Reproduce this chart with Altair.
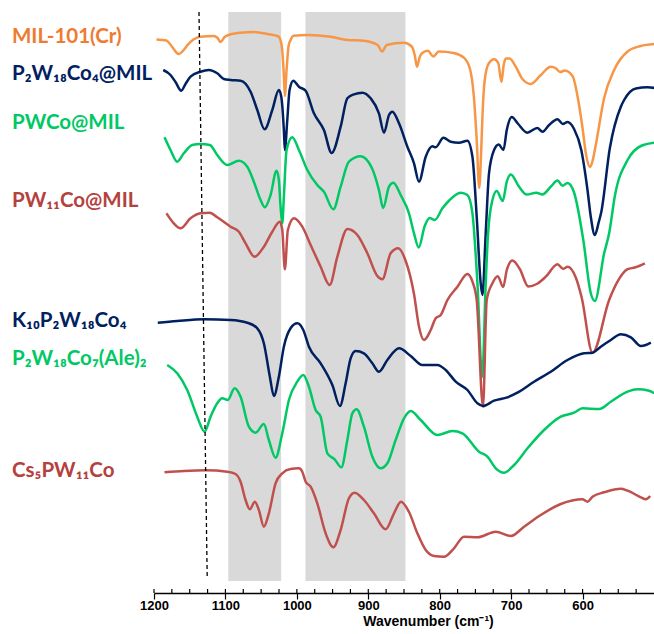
import altair as alt
import pandas as pd

# ---------------- data (wavenumber, offset transmittance a.u.) ----------------
mil_wn = [1196.5, 1182.5, 1175.5, 1165.7, 1157.3, 1153, 1144.7, 1134.9, 1116.6, 1111, 1106.8, 1101.2,
          1095.6, 1078.8, 1060.6, 1041, 1025.6, 1021.4, 1018.6, 1016.8, 1014.4, 1011.6, 1008.8, 1004.6,
          985, 952.7, 928.9, 906.5, 886.9, 880.6, 874.3, 850.5, 839.2, 835, 831.8, 828, 824.5, 816.8,
          808.8, 801.4, 780.4, 766.4, 758, 752.4, 748.2, 744.7, 741.9, 739.8, 737, 731.4, 723.9, 718.1,
          713.6, 710.4, 707.5, 702, 693.6, 684.2, 672.5, 658.5, 644.5, 637.5, 631.5, 624.9, 614.1, 604.9,
          599.7, 595.5, 589.4, 585.7, 581.5, 569.8, 555.8, 537, 518.4, 499.5]
mil_t = [553.5, 552.5, 547, 539, 544, 548, 553.5, 556.3, 557, 555, 551, 556,
         558, 560.3, 561, 559, 556.5, 548, 523, 497, 523, 547, 553, 557.3,
         558, 556.3, 553, 552.3, 548, 541.5, 548, 550.3, 546.5, 538, 526.3, 536, 540, 542.3,
         536.5, 541.5, 540, 535.5, 525, 498, 453, 405, 443, 483, 513, 529.5, 533.7, 530,
         511.3, 528, 534.5, 534.5, 526.3, 514, 509, 518, 526.3, 524.7, 521, 522.5, 517, 488,
         463, 440, 426, 433, 448, 495, 523, 541.5, 547, 549]

p2co4mil_wn = [1187.1, 1176.9, 1169.9, 1161.9, 1155.9, 1148.9, 1134.9, 1123.2, 1111.5, 1102.2, 1092.8,
               1078.8, 1064.8, 1055.4, 1045.2, 1034.4, 1025.2, 1021.8, 1018.2, 1016.8, 1013.4, 1010.2,
               1005, 997.1, 987.7, 976.1, 962.1, 951.3, 938.7, 929.3, 920.1, 908.3, 896.7, 885.1, 878,
               871, 866.3, 857, 845.3, 836, 829, 819.6, 810.2, 805.6, 794.8, 784.6, 773, 761.2, 754.2,
               748.2, 742.6, 740.2, 735.6, 731, 723.9, 717.4, 710.8, 706.1, 699.1, 690.7, 677.4, 663.4,
               656.1, 646.9, 635.1, 627.7, 621.1, 611.9, 601.8, 593.1, 588.5, 582.9, 577.3, 573.8, 561.8,
               546.4, 541.8, 525.4, 509, 498.8]
p2co4mil_t = [523, 518, 511, 502.3, 509, 516.3, 521.3, 523, 519.7, 514, 513,
              512.3, 501.3, 483, 463.7, 483, 503, 496.3, 463, 443, 473, 503,
              512.3, 506.3, 502.3, 479.7, 463, 440, 466.3, 494.7, 498.7, 500.3, 494.7, 479.7, 460.3,
              478, 481.3, 469.7, 446.3, 429.7, 411.3, 436.3, 446.7, 445.7, 455.3, 451.3, 450.3, 452.3, 436.3,
              376.3, 309.7, 298, 359.7, 419.7, 443, 448.5, 443, 463, 476, 469.5, 460.3, 465,
              461.3, 468, 473.8, 469, 471, 464, 443, 403, 376.3, 358, 371, 381, 445,
              486.3, 493, 504.5, 505.7, 505]

pwcomil_wn = [1185.3, 1176.9, 1167.5, 1158.3, 1146.5, 1134.9, 1121.8, 1111.5, 1097.4, 1081.2, 1069.4,
              1060.2, 1050.8, 1044.8, 1036.8, 1028.4, 1025.2, 1022.8, 1020.4, 1018.2, 1014.4, 1006.4,
              997.1, 985.4, 971.4, 962.1, 948.9, 938.7, 927.1, 910.7, 895.3, 885.1, 879.2, 871, 864.9,
              854.7, 843, 836, 829.4, 821, 814, 807, 796.2, 787.4, 770.6, 761.2, 754.2, 747.2, 740.5,
              735.6, 732.3, 726.2, 720.2, 711.8, 706.1, 700.5, 688.9, 678.1, 664.8, 656.1, 644.5, 635.1,
              628.1, 621.1, 611.9, 599, 588.5, 582.9, 569.8, 562.8, 554.8, 537, 518.4, 498.8]
pwcomil_t = [455.7, 443, 431.3, 439.7, 448, 449, 448, 438, 428, 432.3, 426.3,
             411.3, 393, 385.7, 398, 422.3, 413, 386.3, 369.7, 396.3, 443, 455.7,
             443, 423, 408, 401.3, 383.7, 406.3, 431.3, 436.7, 425.5, 403, 385, 406.3, 410.3,
             398, 379.7, 359.7, 345.5, 367, 375, 373, 384.7, 392, 400.3, 398, 379.7, 309.7, 216,
             309.7, 359.7, 393, 402, 392, 411.3, 418.5, 406.3, 398.5, 400.3, 398.5, 406.3, 412.5,
             407.2, 410, 400.5, 353, 299.7, 292, 339.7, 359.7, 397, 433, 447, 450.3]

pw11mil_wn = [1182.5, 1172.3, 1162.9, 1148.9, 1134.9, 1121.8, 1111.5, 1092.8, 1081.2, 1071.8, 1059.2,
              1046.2, 1034.4, 1023.8, 1020.4, 1016.8, 1012.6, 1004.1, 992.4, 980.7, 966.7, 954.1, 943.3,
              929.3, 915.3, 901.3, 887.3, 880.3, 868.7, 858.2, 847.6, 836, 829, 822, 812.6, 805.6, 798.6,
              789.2, 775.2, 761.2, 754.2, 748.2, 739.4, 734.2, 726.2, 718.8, 711.1, 706.1, 698.2, 687.9,
              676, 664.1, 651.5, 635.1, 627.4, 620.7, 609.5, 601.1, 586.1, 562.8, 551.1, 537, 526.8, 512.8]
pw11mil_t = [379.7, 369.7, 364.7, 374.7, 379.7, 380.3, 375.7, 366.3, 361.3, 349.7, 336.3,
             346.3, 361.3, 371.3, 363, 323.7, 363, 374.7, 366.3, 348, 326.3, 308, 336.3,
             364, 358, 339.7, 317, 313.7, 339.7, 344.7, 332, 299, 266.3, 253, 263, 274.7, 278,
             293, 306.3, 319, 311.3, 293, 186.3, 293, 309.7, 316.7, 306, 323, 332.5, 324,
             306.5, 309, 316.3, 328.8, 324.2, 326.3, 315.5, 295, 240.3, 293, 311.3, 323.8, 325.5, 329.7]

k10_wn = [1194.7, 1167.5, 1130.2, 1092.8, 1069.4, 1055.4, 1046.2, 1037.8, 1032.2, 1025.2, 1018.2, 1008.8,
          999.4, 991, 983.1, 966.7, 950.3, 939.7, 931.7, 924.7, 917.7, 906.1, 894.3, 885.1, 873.3, 857,
          840.6, 824.3, 803.2, 791.6, 777.6, 761.2, 747.2, 739.4, 723.9, 705.2, 691.2, 667.9, 644.5, 621.1,
          597.9, 586.1, 574.5, 560.4, 546.4, 532.4, 518.4, 511.4, 504.4]
k10_t = [270.3, 272, 273.7, 273, 270.3, 264.7, 249.7, 216.3, 197, 216.3, 246.3, 264.7,
         269.7, 263, 246.3, 229.7, 208, 187, 209.7, 234.7, 242, 239.7, 229.7, 221.3, 233, 244.7,
         237, 228, 228, 223, 211.3, 203, 189.7, 187, 192.3, 195.7, 200.3, 211.3, 221.3, 233,
         239.7, 240.3, 246.3, 253, 258.7, 255.7, 247, 248, 250.3]

ale_wn = [1181.5, 1167.5, 1153.5, 1139.5, 1129.2, 1120.8, 1111.5, 1104.5, 1096.6, 1087.2, 1078.8, 1067.2,
          1057.8, 1046.2, 1039.2, 1029.8, 1020.4, 1011.1, 999.4, 991, 983.1, 973.7, 966.7, 957.3, 947.1,
          937.7, 929.3, 922.3, 916.3, 906.1, 894.3, 882.7, 873.3, 861.7, 850, 840.6, 826.6, 803.2, 782.2,
          768.2, 745, 733.2, 721.6, 709.9, 695.9, 677.1, 653.9, 630.5, 611.9, 600.1, 576.8, 560.4, 537,
          523, 506.8, 499.8]
ale_t = [228, 219.7, 203, 176.3, 161.3, 176.3, 189.7, 194.7, 193, 204.7, 196.3, 166.3,
         160.3, 169, 153, 135.3, 159.7, 193, 211.3, 218, 206.3, 183, 176.3, 139.7, 133.7,
         125.7, 153, 179.7, 183.7, 166.3, 136.3, 124.7, 129.7, 153, 174.7, 182, 173, 158, 162,
         159.7, 141.3, 136.3, 124.7, 120.3, 128, 144.7, 163, 176.3, 180.3, 184.7, 184, 191.3, 201.3,
         203.7, 202.3, 199.7]

cs5_wn = [1185.3, 1158.3, 1127.8, 1097.4, 1085.8, 1078.8, 1071.8, 1065.8, 1058.8, 1053.2, 1046.2, 1039.2,
          1029.8, 1020.4, 1008.8, 997.1, 992.4, 987.7, 980.7, 971.4, 959.7, 948.9, 938.7, 927.1, 919.1,
          906.1, 892.1, 875.7, 864, 854.2, 843, 831.3, 819.6, 808, 794, 780, 766, 747.2, 721.6, 700.5,
          681.9, 658.5, 630.5, 600.1, 593.1, 586.1, 569.8, 546.4, 537, 518.4, 511.4, 505.4]
cs5_t = [120.7, 122, 122.7, 121.3, 119, 111.3, 93, 83.7, 91.3, 83, 66.3, 79.7,
         109.7, 119.7, 124, 124.7, 121.3, 111.3, 106.3, 89.7, 59.7, 45.7, 63, 94.7, 100.3,
         93, 79.7, 63.7, 79.7, 91.3, 81, 59.7, 43, 37, 36.3, 44.7, 56.3, 55.7, 61.3, 57,
         66.3, 78, 89, 93.7, 91.3, 96.3, 100.7, 104.3, 102.3, 95.7, 93.7, 97]

series_names = ["MIL-101(Cr)", "P₂W₁₈Co₄@MIL", "PWCo@MIL", "PW₁₁Co@MIL",
                "K₁₀P₂W₁₈Co₄", "P₂W₁₈Co₇(Ale)₂", "Cs₅PW₁₁Co"]
series_wn = [mil_wn, p2co4mil_wn, pwcomil_wn, pw11mil_wn, k10_wn, ale_wn, cs5_wn]
series_t = [mil_t, p2co4mil_t, pwcomil_t, pw11mil_t, k10_t, ale_t, cs5_t]

band_start = [1096, 988]
band_end = [1022, 848]
dash_top_wn = [1137]
dash_bottom_wn = [1125.5]
major_ticks = [1200, 1100, 1000, 900, 800, 700, 600]
minor_ticks = [1200 - 25 * i for i in range(28)]

# ---------------- styles ----------------
line_colors = ["#F79646", "#002060", "#00C864", "#C0504D", "#002060", "#00C864", "#C0504D"]
label_colors = ["#EE7B30", "#002060", "#00C864", "#B4413E", "#002060", "#00C864", "#B4413E"]
label_baselines = [31, 68, 117, 195, 315, 353, 465]

rows = []
for name, wns, ts in zip(series_names, series_wn, series_t):
    for w, t in zip(wns, ts):
        rows.append({"series": name, "wn": w, "t": t})
df = pd.DataFrame(rows)

W, H = 500, 581
xscale = alt.Scale(domain=[1200, 500], nice=False, zero=False)
yscale = alt.Scale(domain=[0, 581], nice=False, zero=False)
XTITLE = "Wavenumber (cm⁻¹)"
xaxis = alt.Axis(values=major_ticks, format="d", labelFont="Liberation Sans", labelFontSize=13,
                 labelFontWeight="bold", labelColor="black", labelPadding=0, labelFlush=False,
                 labelOverlap=False, labelAlign="center", tickSize=6,
                 tickColor="black", tickWidth=1.2, domainColor="black", domainWidth=1.3,
                 grid=False, title=XTITLE, titleFont="Liberation Sans", titleFontSize=14,
                 titleFontWeight="bold", titleColor="black", titleX=274, titleY=32.5,
                 titleBaseline="alphabetic", titleAlign="center")

bands = alt.Chart(pd.DataFrame({"s": band_start, "e": band_end})).mark_rect(
    color="#D9D9D9").encode(
    x=alt.X("s:Q", scale=xscale, axis=xaxis, title=XTITLE),
    x2="e:Q",
    y=alt.value(0), y2=alt.value(569))

lines = alt.Chart(df).mark_line(strokeWidth=2.5, interpolate="monotone").encode(
    x=alt.X("wn:Q", scale=xscale, axis=xaxis, title=XTITLE),
    y=alt.Y("t:Q", scale=yscale, axis=None),
    color=alt.Color("series:N", scale=alt.Scale(domain=series_names, range=line_colors), legend=None),
    detail="series:N")

dash = alt.Chart(pd.DataFrame({"a": dash_top_wn, "b": dash_bottom_wn})).mark_rule(
    color="black", strokeWidth=1.3, strokeDash=[4, 3]).encode(
    x=alt.X("a:Q", scale=xscale, axis=xaxis, title=XTITLE),
    x2="b:Q",
    y=alt.value(0), y2=alt.value(566))

ticks = alt.Chart(pd.DataFrame({"k": minor_ticks})).mark_rule(
    color="black", strokeWidth=1.2).encode(
    x=alt.X("k:Q", scale=xscale, axis=xaxis, title=XTITLE),
    y=alt.value(577), y2=alt.value(581))

labels = []
for name, col, yb in zip(series_names, label_colors, label_baselines):
    labels.append(alt.Chart(pd.DataFrame({"lab": [name]})).mark_text(
        align="left", baseline="alphabetic", font="Lato", fontSize=20.5, fontWeight="bold",
        color=col).encode(text="lab:N", x=alt.value(-142), y=alt.value(yb)))

chart = alt.layer(bands, lines, dash, ticks, *labels).properties(
    width=W, height=H,
    autosize=alt.AutoSizeParams(type="none"),
    padding={"left": 154, "top": 12, "right": 0, "bottom": 41},
).configure_view(stroke=None)

chart.save("out.html", embed_options={"renderer": "svg", "actions": False})
